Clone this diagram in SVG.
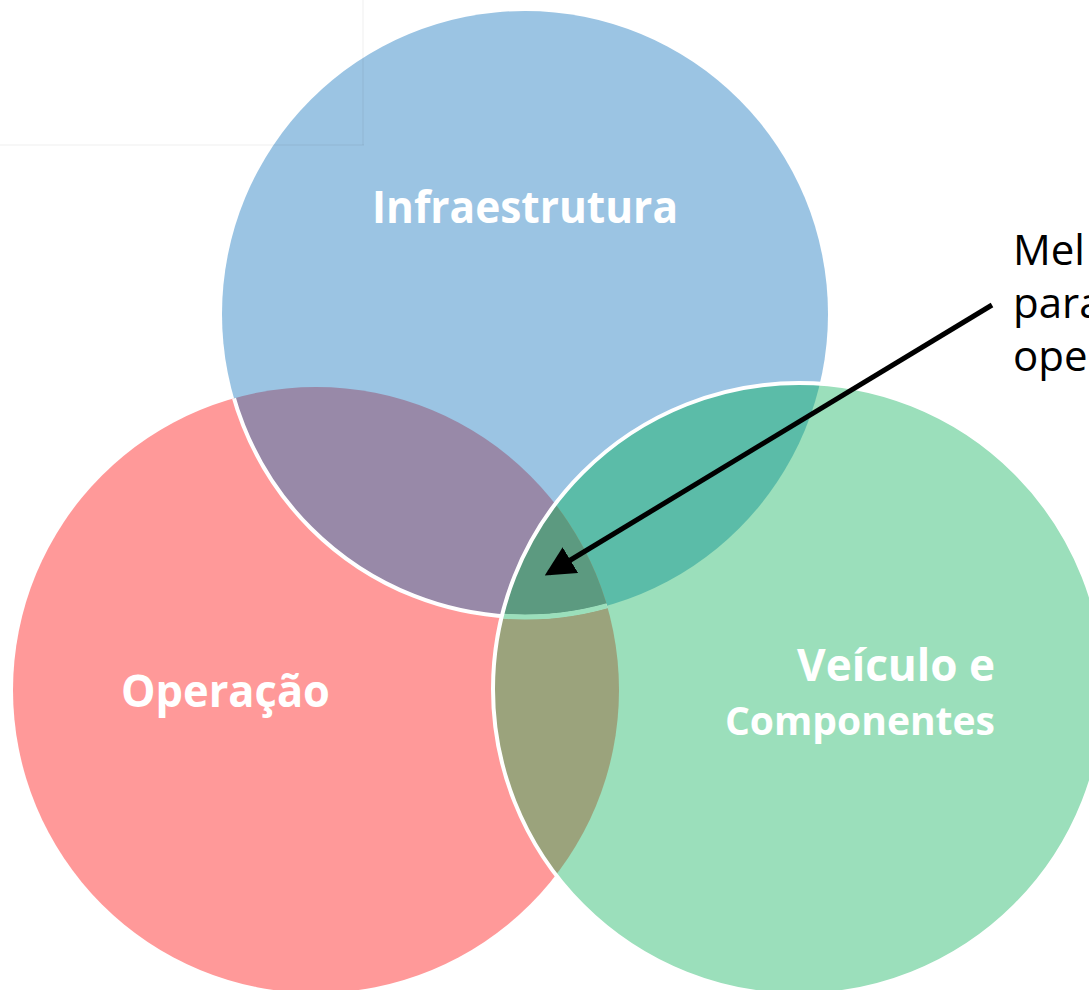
<svg xmlns="http://www.w3.org/2000/svg" width="1089" height="990" viewBox="0 0 1089 990">
  <style>
    .lbl { font-family: "Open Sans", "Noto Sans", "Liberation Sans", sans-serif; font-weight: bold; fill: #ffffff; }
    .note { font-family: "Open Sans", "Noto Sans", "Liberation Sans", sans-serif; font-size: 42px; fill: #000000; }
    .faint { stroke: #000000; stroke-opacity: 0.03; stroke-width: 2; fill: none; }
  </style>
  <defs>
    <circle id="cBlue" cx="525" cy="314" r="303"/>
    <circle id="cRed" cx="316" cy="690" r="303"/>
    <circle id="cGreen" cx="799" cy="689" r="306"/>
    <clipPath id="clipBlue"><use href="#cBlue"/></clipPath>
    <clipPath id="clipRed"><use href="#cRed"/></clipPath>
    <clipPath id="clipGreen"><use href="#cGreen"/></clipPath>
    <marker id="arrow" markerWidth="6" markerHeight="6" refX="5" refY="3" orient="auto" markerUnits="strokeWidth">
      <path d="M0,0 L6,3 L0,6 z" fill="#000000"/>
    </marker>
  </defs>
  <rect width="1089" height="990" fill="#ffffff"/>

  <g id="operacao">
    <circle cx="316" cy="690" r="303" fill="#FF9999"/>
  </g>
  <g id="infraestrutura">
    <circle cx="525" cy="314" r="303" fill="#9BC4E3"/>
  </g>
  <g id="veiculo-componentes">
    <circle cx="799" cy="689" r="306" fill="#9BDFBB"/>
  </g>

  <g id="overlaps">
    <circle cx="316" cy="690" r="303" fill="#9889A8" clip-path="url(#clipBlue)"/>
    <circle cx="799" cy="689" r="306" fill="#5BBCA8" clip-path="url(#clipBlue)"/>
    <circle cx="799" cy="689" r="306" fill="#9BA37C" clip-path="url(#clipRed)"/>
    <g clip-path="url(#clipRed)">
      <circle cx="799" cy="689" r="306" fill="#5C9A80" clip-path="url(#clipBlue)"/>
    </g>
  </g>

  <g id="outlines" fill="none">
    <circle cx="525" cy="314" r="303" stroke="#ffffff" stroke-width="4" clip-path="url(#clipRed)"/>
    <g clip-path="url(#clipRed)">
      <circle cx="525" cy="314" r="303" stroke="#9BDFBB" stroke-width="5" clip-path="url(#clipGreen)"/>
    </g>
    <circle cx="799" cy="689" r="306" stroke="#ffffff" stroke-width="4"/>
  </g>

  <g id="faint-lines">
    <line class="faint" x1="0" y1="145" x2="364" y2="145"/>
    <line class="faint" x1="363" y1="0" x2="363" y2="145"/>
  </g>

  <g id="labels">
    <text class="lbl" x="372" y="223" font-size="44" textLength="306" lengthAdjust="spacingAndGlyphs">Infraestrutura</text>
    <text class="lbl" x="121" y="707" font-size="44" textLength="209" lengthAdjust="spacingAndGlyphs">Operação</text>
    <text class="lbl" x="797" y="681" font-size="44" textLength="198" lengthAdjust="spacingAndGlyphs">Veículo e</text>
    <text class="lbl" x="725" y="735" font-size="40" textLength="270" lengthAdjust="spacingAndGlyphs">Componentes</text>
  </g>

  <g id="connectors">
    <line x1="992" y1="305" x2="549" y2="573" stroke="#000000" stroke-width="5" marker-end="url(#arrow)"/>
  </g>

  <g id="note">
    <text class="note" x="1013" y="265">Mel</text>
    <text class="note" x="1013" y="318">para</text>
    <text class="note" x="1013" y="371">oper</text>
  </g>
</svg>
